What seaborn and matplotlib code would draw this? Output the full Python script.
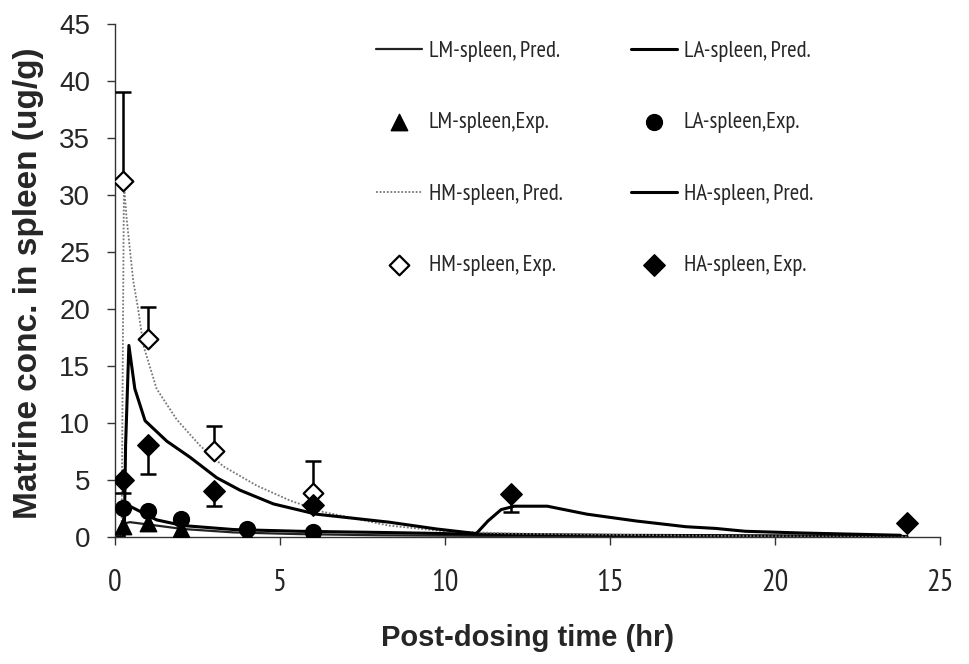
import matplotlib
matplotlib.use("Agg")
import matplotlib.pyplot as plt
from matplotlib import font_manager as fm
import seaborn as sns

# ---------------- data ----------------
hm_pred_t = [0, 0.2, 0.27, 0.35, 0.55, 0.7, 0.86, 1.26, 1.87, 2.58, 3.28, 4.3, 5.3, 6.3, 8.3, 10, 12, 15, 18, 21, 24]
hm_pred_v = [0, 0, 31, 28, 22.5, 20, 16.8, 13, 10.3, 8.0, 6.2, 4.5, 3.2, 2.2, 1.0, 0.5, 0.3, 0.2, 0.1, 0.05, 0.03]

ha_pred_t = [0, 0.28, 0.32, 0.42, 0.6, 0.91, 1.57, 2.27, 3.08, 3.79, 4.8, 6.1, 8.3, 9.75, 10.95,
             11.3, 11.7, 12.1, 13.1, 14.3, 15.8, 17.3, 18.2, 19.1, 20.8, 23.8]
ha_pred_v = [0, 0, 8, 16.8, 13, 10.2, 8.4, 7.0, 5.2, 4.1, 2.9, 2.0, 1.3, 0.7, 0.3,
             1.4, 2.4, 2.7, 2.7, 2.0, 1.4, 0.9, 0.75, 0.5, 0.35, 0.15]

la_pred_t = [0, 0.2, 0.3, 0.45, 1.26, 2.06, 3.6, 5.6, 8, 11, 15, 20, 24]
la_pred_v = [0, 0, 2.6, 2.7, 1.5, 1.0, 0.65, 0.5, 0.4, 0.25, 0.15, 0.1, 0.05]

lm_pred_t = [0, 0.2, 0.3, 0.45, 1.26, 2.06, 3.6, 5.6, 8, 11, 15, 20, 24]
lm_pred_v = [0, 0, 1.2, 1.3, 1.0, 0.7, 0.4, 0.25, 0.15, 0.1, 0.05, 0.03, 0.02]

lm_exp_t = [0.25, 1, 2, 4, 6]
lm_exp_v = [1.0, 1.2, 0.7, 0.1, 0.1]

la_exp_t = [0.25, 1, 2, 4, 6]
la_exp_v = [2.5, 2.3, 1.6, 0.7, 0.4]

hm_exp_t = [0.25, 1, 3, 6]
hm_exp_v = [31.2, 17.4, 7.5, 3.9]
hm_exp_err = [7.8, 2.8, 2.2, 2.8]      # upper error bars

ha_exp_t = [0.25, 1, 3, 6, 12, 24]
ha_exp_v = [5.0, 8.1, 4.0, 2.8, 3.8, 1.2]
ha_exp_err = [1.1, 2.6, 1.3, 0.0, 1.6, 0.0]   # lower error bars

x_ticks = [0, 5, 10, 15, 20, 25]
y_ticks = [0, 5, 10, 15, 20, 25, 30, 35, 40, 45]

legend_order = ["LM-spleen, Pred.", "LM-spleen,Exp.", "HM-spleen, Pred.", "HM-spleen, Exp.",
                "LA-spleen, Pred.", "LA-spleen,Exp.", "HA-spleen, Pred.", "HA-spleen, Exp."]

# ---------------- fonts ----------------
sns.set_style("ticks")
plt.rcParams['font.family'] = ['Liberation Sans', 'DejaVu Sans']
available = {f.name for f in fm.fontManager.ttflist}
narrow_name = None
for cand in ['Liberation Sans Narrow', 'Arial Narrow', 'PT Sans Narrow', 'Archivo Narrow',
             'Roboto Condensed', 'Pragati Narrow']:
    if cand in available:
        narrow_name = cand
        break
if narrow_name:
    narrow = [narrow_name, 'Liberation Sans', 'DejaVu Sans']
    xt_size, leg_size = 22, 16.5
else:
    narrow = ['Liberation Sans', 'DejaVu Sans']
    xt_size, leg_size = 19, 14

# ---------------- plotting ----------------
fig = plt.figure(figsize=(9.69, 6.64), dpi=100)
ax = fig.add_axes([0.1187, 0.1913, 0.8514, 0.7726])

sns.lineplot(x=lm_pred_t, y=lm_pred_v, ax=ax, color="#222222", lw=1.6, sort=False,
             estimator=None, label=legend_order[0])
sns.lineplot(x=la_pred_t, y=la_pred_v, ax=ax, color="black", lw=2.2, sort=False,
             estimator=None, label=legend_order[4])
sns.lineplot(x=hm_pred_t, y=hm_pred_v, ax=ax, color="#777777", lw=1.3, sort=False,
             estimator=None, linestyle=(0, (1, 1)), label=legend_order[2])
sns.lineplot(x=ha_pred_t, y=ha_pred_v, ax=ax, color="black", lw=2.2, sort=False,
             estimator=None, label=legend_order[6])

ax.errorbar(hm_exp_t, hm_exp_v, yerr=[[0] * len(hm_exp_err), hm_exp_err], fmt="none",
            ecolor="black", elinewidth=1.8, capsize=6, capthick=1.8, zorder=3)
ax.errorbar(ha_exp_t, ha_exp_v, yerr=[ha_exp_err, [0] * len(ha_exp_err)], fmt="none",
            ecolor="black", elinewidth=1.8, capsize=6, capthick=1.8, zorder=3)

sns.scatterplot(x=lm_exp_t, y=lm_exp_v, ax=ax, marker="^", s=140, color="black",
                edgecolor="black", linewidth=1, zorder=5, label=legend_order[1])
sns.scatterplot(x=la_exp_t, y=la_exp_v, ax=ax, marker="o", s=130, color="black",
                edgecolor="black", linewidth=1, zorder=5, label=legend_order[5])
sns.scatterplot(x=hm_exp_t, y=hm_exp_v, ax=ax, marker="D", s=100, color="white",
                edgecolor="black", linewidth=1.6, zorder=6, label=legend_order[3])
sns.scatterplot(x=ha_exp_t, y=ha_exp_v, ax=ax, marker="D", s=120, color="black",
                edgecolor="black", linewidth=1, zorder=6, label=legend_order[7])

ax.set_xlim(0, 25)
ax.set_ylim(0, 45)
ax.set_xticks(x_ticks)
ax.set_yticks(y_ticks)
ax.set_xticklabels([str(v) for v in x_ticks], fontsize=xt_size, family=narrow)
ax.set_yticklabels([str(v) for v in y_ticks], fontsize=20)
ax.tick_params(axis="both", direction="out", length=6, width=1, color="#333333")
ax.tick_params(axis="x", pad=17)
ax.tick_params(axis="y", pad=12)
for side in ["top", "right"]:
    ax.spines[side].set_visible(False)
for side in ["left", "bottom"]:
    ax.spines[side].set_linewidth(1)
    ax.spines[side].set_color("#333333")

ax.set_xlabel("Post-dosing time (hr)", fontsize=21, fontweight="bold")
ax.xaxis.set_label_coords(0.5, -0.17)
ax.xaxis.label.set_va("top")
ax.set_ylabel("Matrine conc. in spleen (ug/g)", fontsize=24, fontweight="bold")
ax.yaxis.set_label_coords(-0.105, 0.495)
ax.yaxis.label.set_va("center")

handles, labels = ax.get_legend_handles_labels()
hd = dict(zip(labels, handles))
ax.legend([hd[k] for k in legend_order], legend_order, ncol=2, frameon=False, loc="upper left",
          bbox_to_anchor=(0.305, 0.985), prop={"family": narrow, "size": leg_size},
          labelspacing=2.2, handlelength=2.0, handletextpad=0.3, columnspacing=3.0,
          borderaxespad=0)

fig.savefig("out.png", dpi=100)
